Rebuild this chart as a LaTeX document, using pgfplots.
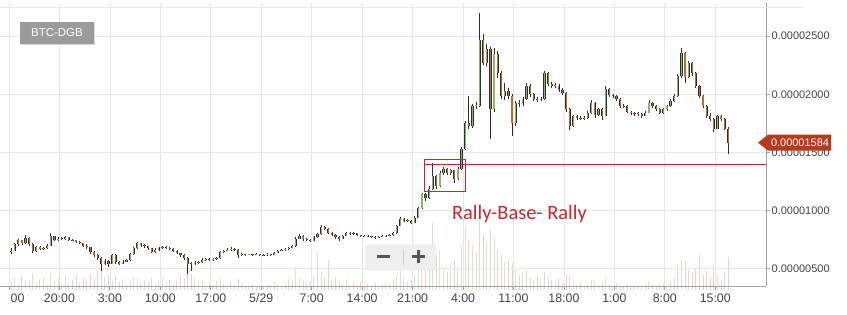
\documentclass[border=0pt]{standalone}
\usepackage{pgfplots}
\pgfplotsset{compat=1.18}
\usepackage{pgfplotstable}
\usepackage{fontspec}
\setmainfont{Liberation Sans}
\newfontfamily\calib{Carlito}
\definecolor{gridc}{HTML}{E8E8E8}
\definecolor{axisc}{HTML}{A0A0A0}
\definecolor{labc}{HTML}{444444}
\definecolor{upc}{HTML}{86B86E}
\definecolor{dnbody}{HTML}{C4692F}
\definecolor{dnwick}{HTML}{2E2E2E}
\definecolor{volup}{HTML}{D3E6CC}
\definecolor{voldn}{HTML}{F1CFCC}
\definecolor{annot}{HTML}{C8282D}
\definecolor{pricec}{HTML}{B8391C}
\definecolor{badge}{HTML}{9B9B9B}
\definecolor{btnfill}{HTML}{EFEFEF}
\definecolor{btndraw}{HTML}{E0E0E0}
\definecolor{btnglyph}{HTML}{555555}

% BTC-DGB, 30-minute candles, prices in units of 0.000001 BTC, v = volume (relative)
\pgfplotstableread{
o h l c v
6.45 6.75 6.30 6.55 8
6.55 7.20 6.50 7.10 12
7.10 7.60 7.00 7.45 6
7.45 7.50 7.05 7.20 14
7.20 7.95 7.10 7.66 10
7.66 7.75 7.00 7.15 9
7.15 7.20 6.35 6.50 16
6.50 6.95 6.45 6.85 7
6.85 6.95 6.60 6.70 11
6.70 6.90 6.60 6.75 13
6.75 7.10 6.70 7.00 5
7.00 8.05 6.95 7.80 17
7.80 7.85 7.35 7.45 9
7.45 7.70 7.40 7.60 12
7.60 7.75 7.45 7.55 6
7.55 7.85 7.50 7.70 14
7.70 7.75 7.40 7.50 8
7.50 7.60 7.35 7.45 10
7.45 7.50 7.20 7.30 15
7.30 7.40 7.10 7.20 7
7.20 7.25 6.90 7.00 12
7.00 7.10 6.70 6.85 9
6.85 6.90 6.30 6.45 16
6.45 6.50 6.00 6.20 11
6.20 6.30 5.80 5.95 18
5.95 6.05 4.85 5.40 22
5.40 5.85 5.30 5.70 13
5.70 5.80 5.20 5.45 15
5.45 6.30 5.40 6.20 10
6.20 6.25 5.40 5.55 14
5.55 5.65 5.35 5.45 8
5.45 5.75 5.40 5.60 11
5.60 5.85 5.55 5.75 6
5.75 6.35 5.70 6.25 9
6.25 6.85 6.20 6.75 13
6.75 7.30 6.70 7.20 12
7.20 7.25 6.90 7.05 7
7.05 7.15 6.80 6.95 10
6.95 7.00 6.60 6.75 8
6.75 6.80 6.35 6.45 12
6.45 6.75 6.40 6.60 6
6.60 6.85 6.55 6.75 9
6.75 7.00 6.70 6.85 13
6.85 6.95 6.70 6.80 7
6.80 6.85 6.60 6.70 10
6.70 6.75 6.45 6.55 6
6.55 6.60 6.25 6.35 9
6.35 6.40 6.05 6.20 14
6.20 6.25 5.80 5.95 11
5.95 6.00 4.57 5.45 20
5.45 5.55 4.80 5.40 16
5.40 5.65 5.30 5.50 12
5.50 5.70 5.40 5.55 8
5.55 5.90 5.50 5.80 10
5.80 5.95 5.70 5.85 4
5.85 5.90 5.65 5.75 7
5.75 5.95 5.70 5.85 5
5.85 6.00 5.80 5.90 9
5.90 6.55 5.85 6.45 12
6.45 6.65 6.40 6.55 6
6.55 6.75 6.50 6.60 4
6.60 6.85 6.55 6.70 8
6.70 6.80 6.55 6.65 5
6.65 6.70 5.95 6.15 11
6.15 6.35 6.10 6.25 7
6.25 6.30 6.10 6.20 4
6.20 6.30 6.15 6.25 3
6.25 6.30 6.10 6.20 5
6.20 6.32 6.15 6.25 3
6.25 6.30 6.12 6.20 4
6.20 6.25 6.08 6.15 3
6.15 6.32 6.10 6.25 5
6.25 6.30 6.12 6.20 4
6.20 6.48 6.15 6.40 9
6.40 6.62 6.35 6.55 6
6.55 6.70 6.50 6.60 4
6.60 6.80 6.55 6.70 7
6.70 6.90 6.65 6.80 11
6.80 7.05 6.75 6.95 8
6.95 7.70 6.90 7.60 23
7.60 8.00 7.55 7.85 12
7.85 7.90 7.40 7.55 9
7.55 7.65 7.35 7.45 6
7.45 7.55 7.30 7.40 8
7.40 7.80 7.35 7.70 14
7.70 8.10 7.65 8.00 38
8.00 8.75 7.95 8.60 18
8.60 8.65 8.30 8.45 12
8.45 8.50 8.00 8.10 30
8.10 8.20 7.85 7.95 9
7.95 8.00 7.55 7.70 13
7.70 7.80 7.40 7.60 8
7.60 7.95 7.55 7.85 6
7.85 8.15 7.80 8.05 10
8.05 8.20 7.95 8.10 5
8.10 8.15 7.95 8.05 7
8.05 8.10 7.80 7.90 4
7.90 7.95 7.70 7.80 8
7.80 7.92 7.72 7.85 3
7.85 7.90 7.72 7.80 6
7.80 7.85 7.65 7.75 4
7.75 7.80 7.60 7.70 7
7.70 7.82 7.65 7.75 3
7.75 7.88 7.70 7.80 5
7.80 7.92 7.75 7.85 8
7.85 7.98 7.80 7.90 6
7.90 8.15 7.85 8.05 10
8.05 8.80 8.00 8.70 15
8.70 9.45 8.65 9.30 22
9.30 9.40 9.00 9.10 12
9.10 9.25 9.00 9.15 8
9.15 9.20 8.85 8.95 10
8.95 9.55 8.90 9.40 14
9.40 10.35 9.35 10.20 24
10.20 11.55 10.15 11.40 30
11.40 11.50 10.80 11.05 20
11.05 12.10 11.00 11.90 28
11.90 14.10 11.80 13.00 67
13.00 13.10 11.85 12.10 35
12.10 13.40 12.00 13.25 40
13.25 13.75 13.10 13.60 22
13.60 13.70 13.05 13.25 18
13.25 13.60 13.10 13.45 25
13.45 13.50 12.40 12.75 30
12.75 13.75 12.65 13.60 20
13.60 15.45 13.50 15.30 45
15.30 17.70 15.20 17.50 63
17.50 19.85 17.00 17.30 50
17.30 19.20 17.10 18.99 45
18.99 19.30 18.70 19.00 38
19.00 26.95 18.90 24.70 70
24.70 25.20 22.50 22.70 55
22.70 24.30 22.40 23.90 48
23.90 24.10 16.15 18.70 60
18.70 24.00 18.50 23.50 52
23.50 23.70 21.40 21.80 40
21.80 22.00 19.60 19.85 35
19.85 21.00 19.50 20.30 28
20.30 20.50 19.60 19.85 30
19.85 20.00 16.40 17.50 27
17.50 19.40 17.30 19.25 22
19.25 19.50 18.90 19.20 15
19.20 19.80 19.00 19.60 18
19.60 21.00 19.50 20.70 20
20.70 20.85 19.80 20.00 12
20.00 20.10 19.40 19.60 10
19.60 19.75 19.30 19.50 14
19.50 19.80 19.40 19.60 9
19.60 22.00 19.50 21.80 18
21.80 21.90 20.70 20.90 12
20.90 21.05 20.50 20.70 10
20.70 20.95 20.55 20.75 8
20.75 20.85 20.20 20.40 11
20.40 20.50 19.90 20.10 7
20.10 20.20 18.50 18.70 15
18.70 18.80 16.90 17.30 13
17.30 18.25 17.20 18.10 9
18.10 18.20 17.80 18.00 5
18.00 18.10 17.75 17.90 7
17.90 18.15 17.80 18.00 4
18.00 18.55 17.90 18.40 6
18.40 19.50 18.30 19.25 10
19.25 19.30 18.00 18.20 8
18.20 18.85 18.10 18.70 5
18.70 18.80 17.80 18.15 7
18.15 20.70 18.10 20.45 12
20.45 20.55 19.75 19.90 6
19.90 20.05 19.70 19.85 4
19.85 19.95 19.45 19.60 7
19.60 19.70 18.85 19.00 5
19.00 19.15 18.80 18.95 3
18.95 19.05 18.35 18.50 6
18.50 18.60 18.25 18.40 4
18.40 18.50 18.15 18.30 5
18.30 18.45 18.15 18.30 3
18.30 18.40 18.00 18.15 4
18.15 18.55 18.10 18.40 6
18.40 19.50 18.35 19.25 8
19.25 19.35 18.80 18.95 5
18.95 19.05 18.55 18.70 4
18.70 18.80 18.30 18.40 6
18.40 18.85 18.30 18.70 7
18.70 19.10 18.60 18.99 5
18.99 19.55 18.90 19.40 9
19.40 20.00 19.30 19.85 12
19.85 21.70 19.80 21.55 25
21.55 23.95 21.40 23.55 30
23.55 23.60 21.00 21.50 28
21.50 22.90 21.40 22.65 20
22.65 22.75 21.60 21.80 18
21.80 21.90 20.50 20.70 22
20.70 20.80 19.70 19.85 35
19.85 19.95 18.80 19.00 15
19.00 19.10 18.00 18.15 20
18.15 18.40 17.70 17.90 12
17.90 18.00 16.75 17.05 25
17.05 18.25 17.00 18.10 14
18.10 18.20 17.70 17.90 10
17.90 18.00 16.90 17.05 18
17.05 17.20 14.87 15.84 33
}\candles

\begin{document}
\begin{tikzpicture}[x=1bp,y=1bp]
\useasboundingbox (0,0) rectangle (847,314);
\pgfplotsset{
  base/.style={scale only axis, width=766bp, height=283bp, at={(0,24)}, anchor=south west,
    xmin=-1.249, xmax=105.04},
  candle/.style={draw=none, mark=none, error bars/.cd, y dir=plus, y explicit, error mark=none},
}
% volume bars
\begin{axis}[base, ymin=0, ymax=283, hide axis]
\addplot[ycomb, mark=none, voldn, line width=1bp]
  table[x expr=0.3+0.5*\coordindex, y expr={\thisrow{c}<\thisrow{o} ? \thisrow{v} : nan}] \candles;
\addplot[ycomb, mark=none, volup, line width=1bp]
  table[x expr=0.3+0.5*\coordindex, y expr={\thisrow{c}<\thisrow{o} ? nan : \thisrow{v}}] \candles;
\end{axis}
% price candles
\begin{axis}[base, ymin=3.52, ymax=27.835,
  axis x line*=bottom, axis y line*=right,
  axis line style={-, draw=axisc, line width=0.8bp},
  xtick={0,7,...,98},
  xticklabels={\phantom{13:}00,20:00,3:00,10:00,17:00,5/29,7:00,14:00,21:00,4:00,11:00,18:00,1:00,8:00,15:00},
  ytick={5,10,15,20,25},
  yticklabels={0.00000500,0.00001000,0.00001500,0.00002000,0.00002500},
  grid=major, major grid style={gridc, line width=0.7bp},
  tick align=outside, major tick length=4bp, tick style={axisc, line width=0.8bp},
  xticklabel style={font=\fontsize{12.4}{14}\selectfont, text=labc},
  yticklabel style={font=\fontsize{11}{13}\selectfont, text=labc, inner sep=1.5bp},
  /pgf/number format/assume math mode=true,
  clip=false,
]
% wicks (high-low)
\addplot[candle, error bar style={draw=dnwick, line width=0.7bp}]
  table[x expr=0.3+0.5*\coordindex, y=l, y error expr=\thisrow{h}-\thisrow{l}] \candles;
% body outlines
\addplot[candle, error bar style={draw=dnwick, line width=2.2bp}]
  table[x expr=0.3+0.5*\coordindex, y expr={min(\thisrow{o},\thisrow{c})},
        y error expr={max(abs(\thisrow{c}-\thisrow{o}),0.06)}] \candles;
% down bodies
\addplot[candle, error bar style={draw=dnbody, line width=1.1bp}]
  table[x expr=0.3+0.5*\coordindex, y expr={\thisrow{c}<\thisrow{o} ? \thisrow{c} : nan},
        y error expr={max(\thisrow{o}-\thisrow{c},0.06)}] \candles;
% up bodies
\addplot[candle, error bar style={draw=upc, line width=1.1bp}]
  table[x expr=0.3+0.5*\coordindex, y expr={\thisrow{c}<\thisrow{o} ? nan : \thisrow{o}},
        y error expr={max(\thisrow{c}-\thisrow{o},0.06)}] \candles;
% annotation
\draw[annot, line width=1bp] (axis cs:57.72,11.66) rectangle (axis cs:63.37,14.41);
\draw[annot, line width=1bp] (axis cs:57.72,13.98) -- (axis cs:105.04,13.98);
\node[anchor=base, text=annot, font=\calib\fontsize{20.5}{24}\selectfont, inner sep=0]
  at (axis cs:70.83,9.28) {Rally-Base- Rally};
\path (axis cs:105.04,15.84) coordinate (pl);
\end{axis}
% last price label
\fill[pricec] ([xshift=-8bp]pl) -- ++(10bp,8bp) -- ++(63bp,0) -- ++(0,-16bp) -- ++(-63bp,0) -- cycle;
\node[text=white, font=\fontsize{11}{13}\selectfont, inner sep=0] at ([xshift=34bp]pl) {0.00001584};
% top separator
\draw[gridc, line width=0.8bp] (0,307) -- (803,307);
% pair badge
\fill[black!15] (21,269) rectangle (95,291);
\fill[badge] (20,270) rectangle (94,292);
\node[text=white, font=\fontsize{11.5}{13}\selectfont] at (57,281) {BTC-DGB};
% zoom buttons
\filldraw[fill=btnfill, draw=btndraw, rounded corners=2bp] (366,44) rectangle (436,69);
\draw[black!20, line width=0.8bp] (403,49) -- (403,64);
\draw[btnglyph, line width=2.6bp] (377,57.3) -- (390,57.3);
\draw[btnglyph, line width=2.6bp] (411.7,57.3) -- (425,57.3);
\draw[btnglyph, line width=2.6bp] (418.3,50.7) -- (418.3,63.9);
\end{tikzpicture}
\end{document}
